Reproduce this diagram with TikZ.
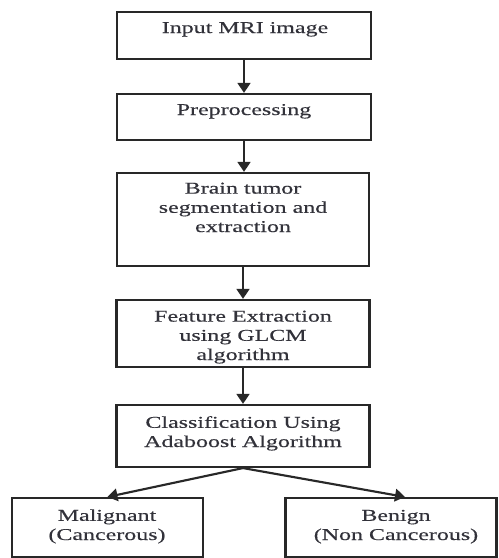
\documentclass[tikz,border=0pt]{standalone}
\usepackage{fontspec}
\setmainfont[FakeStretch=1.45,FakeBold=0.4]{Liberation Serif}
\usetikzlibrary{arrows.meta,calc}
\definecolor{ink}{RGB}{40,40,40}
\definecolor{txt}{RGB}{50,50,58}
\tikzset{
  box/.style={draw=ink, line width=1.6pt, rectangle, inner sep=0pt},
  lbl/.style={text=txt, align=center, anchor=base, inner sep=0pt,
    font=\fontsize{12.4pt}{14.4pt}\selectfont},
  flow/.style={draw=ink, line width=1.6pt, -{Triangle[width=9.5pt,length=7.5pt]}}
}
\begin{document}
\begin{tikzpicture}[x=0.75pt,y=-0.75pt]
\useasboundingbox (0,0) rectangle (499,558);

% process boxes
\node[box, minimum width=190.5pt, minimum height=35.25pt] (b1) at (244,35.5) {};
\node[box, minimum width=190.5pt, minimum height=34.5pt]  (b2) at (244,117) {};
\node[box, minimum width=189pt,   minimum height=69.75pt] (b3) at (243,219.5) {};
\node[box, minimum width=189.75pt,minimum height=50.25pt] (b4) at (243,333.5) {};
\node[box, minimum width=189.75pt,minimum height=46.5pt]  (b5) at (243,436) {};
\node[box, minimum width=143.25pt,minimum height=44.25pt] (b6) at (107.5,527.5) {};
\node[box, minimum width=158.25pt,minimum height=44.25pt] (b7) at (391,527.5) {};

% labels (anchored at the baseline of their last line)
\node[lbl] (t1) at (245,33)  {Input MRI image};
\node[lbl] (t2) at (244,115) {Preprocessing};
\node[lbl] (t3) at (243,232) {Brain tumor\\segmentation and\\extraction};
\node[lbl] (t4) at (243,360) {Feature Extraction\\using GLCM\\algorithm};
\node[lbl] (t5) at (243,447) {Classification Using\\Adaboost Algorithm};
\node[lbl] (t6) at (107,540) {Malignant\\(Cancerous)};
\node[lbl] (t7) at (396,540) {Benign\\(Non Cancerous)};

% connectors
\draw[flow] (b1.south) -- (b2.north);
\draw[flow] (b2.south) -- (b2.south |- b3.north);
\draw[flow] (b3.south) -- (b3.south |- b4.north);
\draw[flow] (b4.south) -- (b5.north);
\draw[flow] (b5.south) -- (b6.north);
\draw[flow] (b5.south) -- ($(b7.north)+(14,0)$);
\end{tikzpicture}
\end{document}
